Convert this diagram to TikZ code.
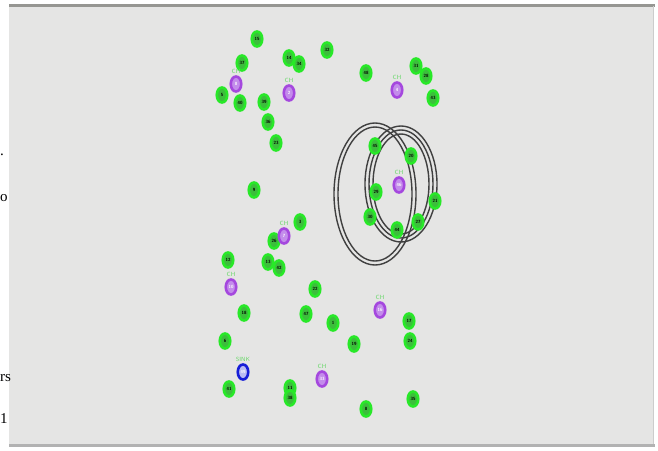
\documentclass[tikz,border=0pt]{standalone}
\usepackage{fontspec}
\setmainfont{Liberation Serif}
\usepackage{tikz}
\usetikzlibrary{positioning,shapes.geometric}
\definecolor{canvas}{RGB}{229,229,228}
\definecolor{framegrey}{RGB}{150,150,146}
\definecolor{nodegreen}{RGB}{40,232,40}
\definecolor{nodefill}{RGB}{60,190,60}
\definecolor{chpurple}{RGB}{165,72,222}
\definecolor{chfill}{RGB}{195,140,235}
\definecolor{sinkblue}{RGB}{22,30,215}
\definecolor{labgreen}{RGB}{105,215,105}
\tikzset{
  mote/.style  ={ellipse, draw=nodegreen, fill=nodefill, line width=2.6pt,
                 minimum width=10.5pt, minimum height=15pt, inner sep=0pt,
                 font=\fontsize{4.5}{4.5}\selectfont\sffamily\bfseries},
  chead/.style ={mote, draw=chpurple, fill=chfill, text=white},
  sinknd/.style={mote, draw=sinkblue, fill=sinkblue!30, text=white},
  tag/.style   ={font=\fontsize{6}{6}\selectfont\sffamily, text=labgreen, inner sep=0pt},
  ring/.style  ={draw=black!75, line width=1.4pt},
  pagetxt/.style={font=\fontsize{15}{15}\selectfont, anchor=west, inner sep=0pt},
}

\begin{document}
\begin{tikzpicture}[x=1pt,y=-1pt]
\useasboundingbox (0,0) rectangle (658,450);
\fill[white] (0,0) rectangle (658,450);
% window frame
\fill[canvas] (9,6) rectangle (653,444);
\fill[framegrey] (9,4) rectangle (655,7);
\fill[black!30] (9,444) rectangle (655,447);
\draw[black!20] (653,6) -- (653,444);
% page text at the left
\node[pagetxt] (p1) at (0,155) {.};
\node[pagetxt] (p2) at (0,198) {o};
\node[pagetxt] (p3) at (0,378) {rs};
\node[pagetxt] (p4) at (0,419) {1};
% range rings
\draw[ring] (375,194) ellipse [x radius=41, y radius=71];
\draw[ring] (375,194) ellipse [x radius=37, y radius=67];
\draw[ring] (401,184) ellipse [x radius=36, y radius=58];
\draw[ring] (401,184) ellipse [x radius=32, y radius=54];
\draw[ring] (401,184) ellipse [x radius=28, y radius=50];
% sensor nodes
\foreach \x/\y/\lab in {257/39/15, 242/63/37, 289/58/14, 299/64/34, 327/50/32,
                        222/95/5, 240/103/40, 264/102/39, 268/122/36, 276/143/23,
                        366/73/48, 416/66/31, 426/76/28, 433/98/43, 254/190/9,
                        300/222/3, 274/241/26, 228/260/12, 268/262/13, 279/268/42,
                        315/289/22, 244/313/18, 306/314/47, 333/323/1, 409/321/17,
                        410/341/24, 225/341/6, 354/344/19, 229/389/41, 290/388/11,
                        290/398/38, 366/409/8, 413/399/35, 375/146/45, 411/156/20,
                        376/192/29, 435/201/21, 370/217/30, 397/230/44, 418/222/27}{
  \node[mote] (n\lab) at (\x,\y) {\lab};
}
% cluster heads
\foreach \x/\y/\lab in {236/84/0, 289/93/2, 397/90/4, 284/236/7,
                        231/287/10, 380/310/16, 322/379/33, 399/185/46}{
  \node[chead] (n\lab) at (\x,\y) {\lab};
  \node[tag, above=1pt of n\lab] (t\lab) {CH};
}
\node[sinknd] (sink) at (243,372) {49};
\node[tag, above=1pt of sink] (tsink) {SINK};
\end{tikzpicture}
\end{document}
